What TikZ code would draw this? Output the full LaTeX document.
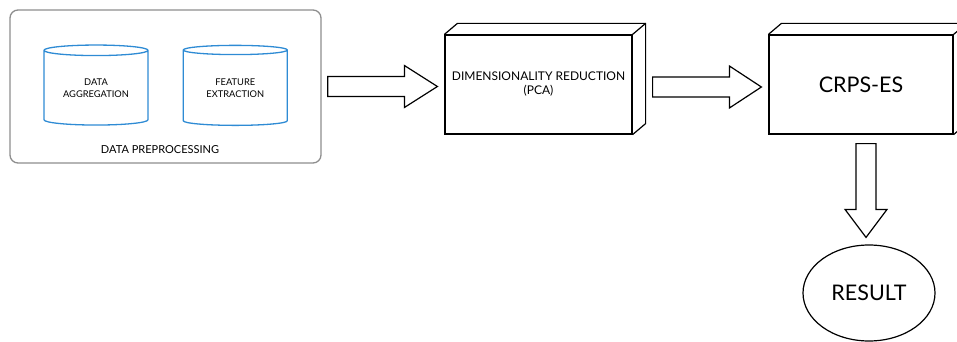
\documentclass[tikz,border=0pt]{standalone}
\usepackage{fontspec}
\setmainfont{Lato}
\usetikzlibrary{shapes.geometric,positioning,calc}
\definecolor{dbblue}{HTML}{2E8BD4}
\definecolor{framegray}{HTML}{8E8E8E}
\tikzstyle{group} = [rectangle, rounded corners=8pt, minimum width=311pt, minimum height=153pt, draw=framegray, line width=1.3pt]
\tikzstyle{database} = [cylinder, shape border rotate=90, aspect=0.16, minimum width=104pt, minimum height=80pt, inner sep=0pt, align=center, draw=dbblue, line width=1.3pt, font=\fontsize{9.3}{12}\selectfont]
\tikzstyle{block} = [rectangle, minimum height=99pt, align=center, draw=black, line width=1.2pt]
\tikzstyle{face} = [draw=black, line width=1.2pt, line join=round]
\tikzstyle{startstop} = [ellipse, minimum width=132pt, minimum height=96pt, inner sep=0pt, draw=black, line width=1.2pt, font=\fontsize{21.5}{24}\selectfont]
\tikzstyle{fatarrow} = [draw=black, line width=1.2pt, line join=miter]
\begin{document}
\begin{tikzpicture}[x=1pt,y=-1pt]
    \useasboundingbox (0,0) rectangle (957,342);
    \clip (0,0) rectangle (957,342);
    \node (prep) [group] at (165.5,86.5) {};
    \node (agg) [database] at (96,88) {DATA\\AGGREGATION};
    \node (feat) [database, right=34pt of agg] {FEATURE\\EXTRACTION};
    \node (preplabel) [font=\fontsize{11}{13}\selectfont] at (160,150) {DATA PREPROCESSING};
    \node (dr) [block, minimum width=187pt, font=\fontsize{12}{14}\selectfont] at (538.5,84.5) {DIMENSIONALITY REDUCTION\\(PCA)};
    \node (crps) [block, minimum width=184pt, font=\fontsize{21.5}{24}\selectfont] at (861,84.5) {CRPS-ES};
    \node (result) [startstop] at (869,293) {RESULT};

    % 3d faces
    \draw[face] (dr.north west) -- ++(13,-11) -| ($(dr.south east)+(13,-11)$) -- (dr.south east);
    \draw[face] (dr.north east) -- ++(13,-11);
    \draw[face] (crps.north west) -- ++(13,-11) -| ($(crps.south east)+(13,-11)$) -- (crps.south east);
    \draw[face] (crps.north east) -- ++(13,-11);

    \draw[fatarrow] let \p1=($(prep.east)+(6,0)$), \p2=($(dr.west)+(-7,0)$) in (\x1,\y1+10pt) -- (\x2-33pt,\y1+10pt) -- (\x2-33pt,\y1+21pt) -- (\x2,\y1) -- (\x2-33pt,\y1-21pt) -- (\x2-33pt,\y1-10pt) -- (\x1,\y1-10pt) -- cycle;
    \draw[fatarrow] let \p1=($(dr.east)+(20,2.5)$), \p2=($(crps.west)+(-7,0)$) in (\x1,\y1+10pt) -- (\x2-32pt,\y1+10pt) -- (\x2-32pt,\y1+21pt) -- (\x2,\y1) -- (\x2-32pt,\y1-21pt) -- (\x2-32pt,\y1-10pt) -- (\x1,\y1-10pt) -- cycle;
    \draw[fatarrow] let \p1=($(crps.south)+(0,9)$), \p2=($(result.north)+(-3,-7)$) in (\x2-10pt,\y1) -- (\x2-10pt,\y2+28pt) -- (\x2-21pt,\y2+28pt) -- (\x2,\y2) -- (\x2+21pt,\y2+28pt) -- (\x2+10pt,\y2+28pt) -- (\x2+10pt,\y1) -- cycle;
\end{tikzpicture}
\end{document}
